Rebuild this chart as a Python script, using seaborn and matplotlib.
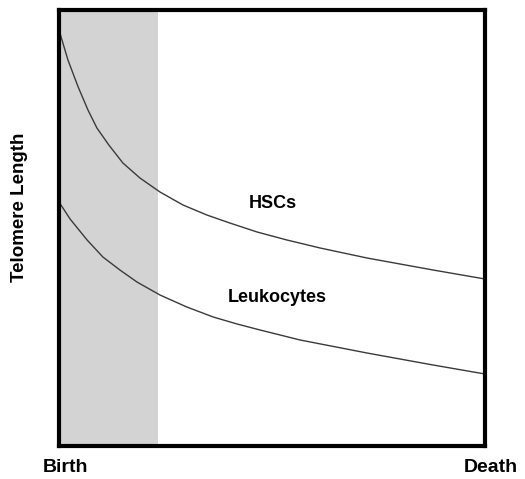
import matplotlib
matplotlib.use("Agg")
import matplotlib.pyplot as plt
import pandas as pd
import seaborn as sns

# Data (x: % of lifespan, y: relative telomere length)
hsc_x = [0, 2.1, 4.5, 6.8, 8.9, 11.7, 15.0, 19.0, 23.7, 29.1, 34.7, 40.1, 46.5,
         53.5, 61.3, 72.3, 87.8, 100]
hsc_y = [416, 386, 359, 336, 318, 301, 283, 268, 254, 241, 231, 223, 214,
         206, 198, 188, 176, 167]

leuk_x = [0, 2.6, 6.6, 10.3, 14.3, 18.3, 23.7, 30.0, 36.2, 41.8, 47.2, 56.6,
          72.3, 87.8, 100]
leuk_y = [244, 227, 206, 189, 176, 164, 151, 139, 129, 122, 116, 106,
          93, 81, 72]

early_life_end = 23.3  # end of the shaded early-life period

df = pd.concat([
    pd.DataFrame({"age": hsc_x, "length": hsc_y, "cell": "HSCs"}),
    pd.DataFrame({"age": leuk_x, "length": leuk_y, "cell": "Leukocytes"}),
])

sns.set_style("white")
plt.rcParams["font.family"] = ["Liberation Sans", "DejaVu Sans"]
plt.rcParams["text.color"] = "black"

fig = plt.figure(figsize=(5.25, 4.79), dpi=100)
ax = fig.add_axes([59 / 525, 1 - 446 / 479, 426 / 525, 436 / 479])

ax.axvspan(0, early_life_end, color="#d3d3d3", lw=0, zorder=0)
sns.lineplot(data=df, x="age", y="length", hue="cell",
             palette=["#3a3a3a", "#3a3a3a"], linewidth=1.0,
             legend=False, ax=ax, zorder=2)

ax.set_xlim(0, 100)
ax.set_ylim(0, 436)
ax.set_xticks([])
ax.set_yticks([])
ax.set_xlabel("")
ax.set_ylabel("")
for sp in ax.spines.values():
    sp.set_linewidth(3)
    sp.set_color("black")
    sp.set_visible(True)

ax.text(50.2, 243, "HSCs", ha="center", va="center", fontsize=13, fontweight="bold")
ax.text(51.2, 148, "Leukocytes", ha="center", va="center", fontsize=13, fontweight="bold")

fig.text(20 / 525, 1 - 207 / 479, "Telomere Length", rotation=90, ha="center",
         va="center", fontsize=13.5, fontweight="bold")
fig.text(65 / 525, 1 - 467 / 479, "Birth", ha="center", va="center",
         fontsize=14, fontweight="bold")
fig.text(491 / 525, 1 - 467 / 479, "Death", ha="center", va="center",
         fontsize=14, fontweight="bold")

fig.savefig("out.png", dpi=100)
